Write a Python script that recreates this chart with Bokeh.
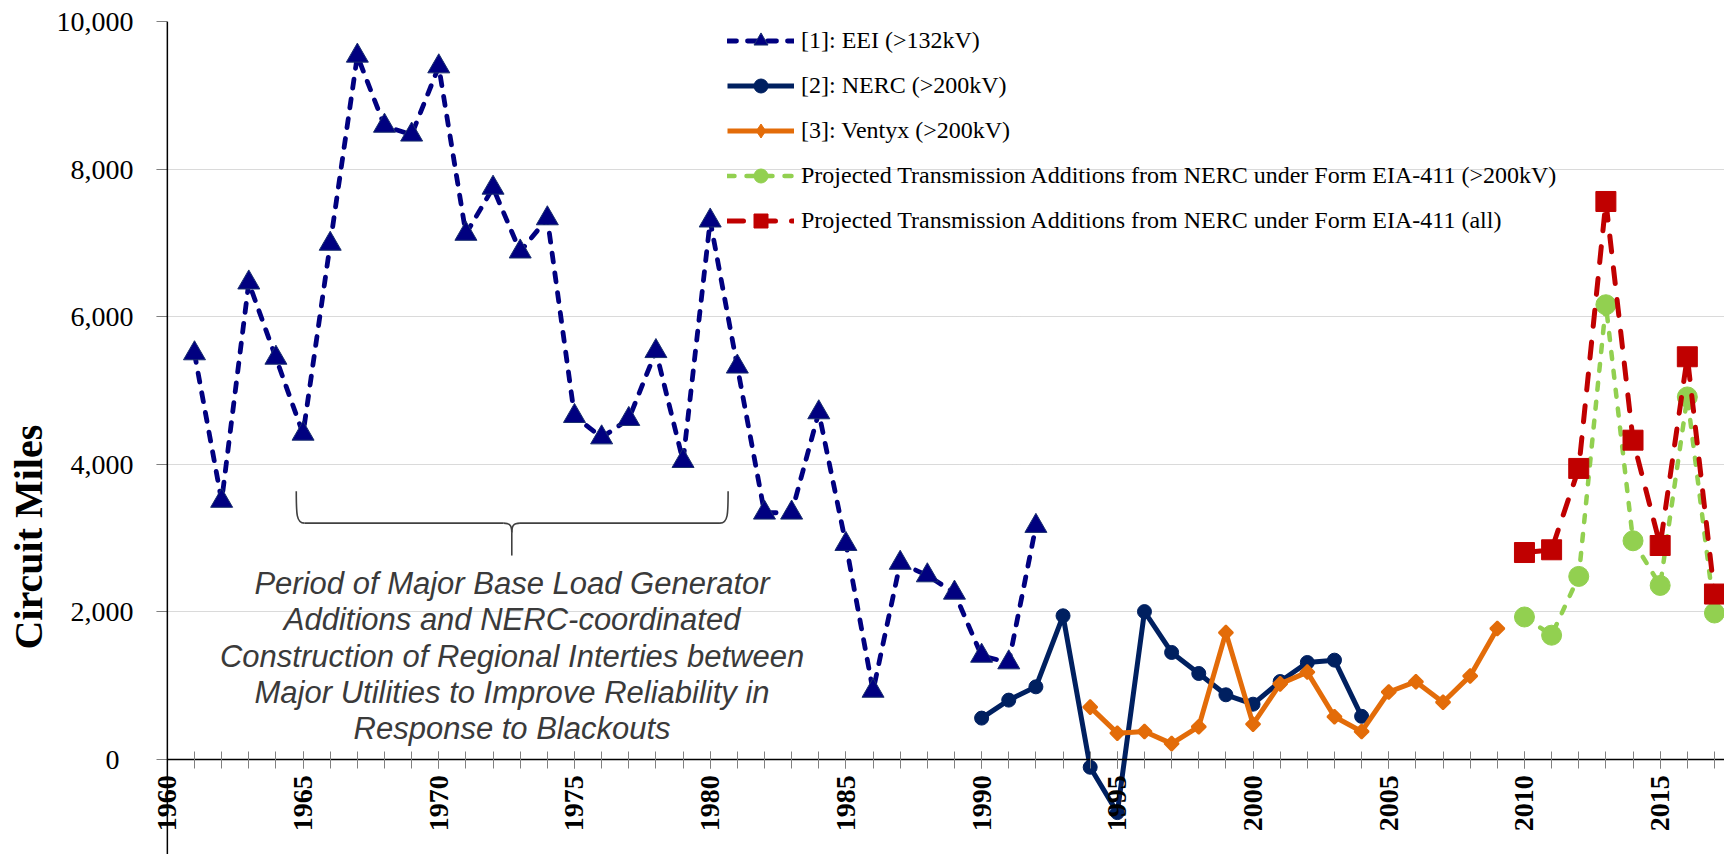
import math
from bokeh.plotting import figure
from bokeh.models import (FixedTicker, NumeralTickFormatter, Legend, LegendItem,
                          Title, ColumnDataSource, Range1d, Span)
from bokeh.embed import file_html
from bokeh.resources import INLINE
from bokeh.core.properties import value

# ---------------- data ----------------
eei_years = list(range(1961, 1993))
eei_miles = [5500, 3500, 6460, 5440, 4410, 6985, 9535, 8585, 8465, 9390,
             7120, 7745, 6880, 7330, 4650, 4360, 4610, 5530, 4040, 7300,
             5320, 3340, 3340, 4700, 2915, 925, 2660, 2490, 2255, 1400,
             1310, 3160]

nerc_years = list(range(1990, 2005))
nerc_miles = [556, 800, 980, 1943, -110, -725, 2000, 1446, 1161, 872,
              745, 1052, 1310, 1342, 580]

ventyx_years = list(range(1994, 2010))
ventyx_miles = [705, 352, 374, 210, 440, 1715, 474, 1020, 1180, 575,
                374, 910, 1050, 772, 1128, 1770]

proj_years = list(range(2010, 2018))
proj_200kv = [1927, 1680, 2477, 6160, 2960, 2355, 4910, 1981]
proj_all = [2801, 2838, 3941, 7560, 4324, 2896, 5455, 2238]

legend_labels = [
    "[1]: EEI (>132kV)",
    "[2]: NERC (>200kV)",
    "[3]: Ventyx (>200kV)",
    "Projected Transmission Additions from NERC under Form EIA-411 (>200kV)",
    "Projected Transmission Additions from NERC under Form EIA-411 (all)",
]

y_ticks = [0, 2000, 4000, 6000, 8000, 10000]
x_major_ticks = list(range(1960, 2016, 5))
x_minor_ticks = list(range(1960, 2018))
x_axis_start = 1960

annotation_lines = [
    "Period of Major Base Load Generator",
    "Additions and NERC-coordinated",
    "Construction of Regional Interties between",
    "Major Utilities to Improve Reliability in",
    "Response to Blackouts",
]
annotation_x = 1972.7
annotation_y_first = 2381
annotation_y_step = 492

# brace spanning the period
brace_left, brace_mid, brace_right = 1964.75, 1972.69, 1980.66
brace_top, brace_bar, brace_tip = 3630, 3200, 2760

# ---------------- figure ----------------
x_end = 2017.37
p = figure(width=1724, height=854, output_backend="svg", toolbar_location=None,
           x_range=Range1d(1959.6, x_end), y_range=Range1d(-1293, 10000),
           min_border_left=155, min_border_right=0, min_border_top=21,
           min_border_bottom=0)
p.outline_line_color = None
p.background_fill_color = "white"
p.border_fill_color = "white"

# grid
p.xgrid.grid_line_color = None
p.ygrid.ticker = FixedTicker(ticks=y_ticks[1:])
p.ygrid.grid_line_color = "#b4b4b4"
p.ygrid.grid_line_dash = "1 1"
p.ygrid.grid_line_width = 1

# y axis (ticks/labels in the side panel, axis line drawn at 1960)
p.yaxis.ticker = FixedTicker(ticks=y_ticks)
p.yaxis.formatter = NumeralTickFormatter(format="0,0")
p.yaxis.major_label_overrides = {0: "0\u00a0\u00a0"}
p.yaxis.major_label_text_font = "Liberation Serif"
p.yaxis.major_label_text_font_size = "28px"
p.yaxis.major_label_text_color = "black"
p.yaxis.major_tick_in = 11
p.yaxis.major_tick_out = 0
p.yaxis.major_tick_line_color = "#808080"
p.yaxis.minor_tick_line_color = None
p.yaxis.major_label_standoff = 23
p.yaxis.axis_line_color = None
p.add_layout(Span(location=x_axis_start, dimension="height",
                  line_color="black", line_width=1.5))

# x axis at y = 0
p.xaxis.fixed_location = 0
p.xaxis.bounds = (x_axis_start, x_end)
p.xaxis.ticker = FixedTicker(ticks=x_major_ticks, minor_ticks=x_minor_ticks)
p.xaxis.formatter = NumeralTickFormatter(format="0")
p.xaxis.major_label_orientation = math.pi / 2
p.xaxis.major_label_text_font = "Liberation Serif"
p.xaxis.major_label_text_font_style = "bold"
p.xaxis.major_label_text_font_size = "28px"
p.xaxis.major_label_text_color = "black"
p.xaxis.major_label_standoff = 7
p.xaxis.major_tick_in = 8
p.xaxis.major_tick_out = 9
p.xaxis.minor_tick_in = 8
p.xaxis.minor_tick_out = 9
p.xaxis.major_tick_line_color = "#808080"
p.xaxis.minor_tick_line_color = "#808080"
p.xaxis.axis_line_color = "black"
p.xaxis.axis_line_width = 1.5

# y axis title (placed lower than the frame centre, like the original)
p.add_layout(Title(text="Circuit Miles", align="left", offset=205, standoff=6,
                   text_font="Liberation Serif", text_font_style="bold",
                   text_font_size="40px", text_color="black"), "left")

# ---------------- brace annotation ----------------
dx = 0.3
h_mid = (brace_bar - brace_tip) * 0.3
brace_src = ColumnDataSource(dict(
    x0=[brace_left, brace_left + dx, brace_mid - dx, brace_right, brace_right - dx, brace_mid + dx],
    y0=[brace_top, brace_bar, brace_bar, brace_top, brace_bar, brace_bar],
    x1=[brace_left + dx, brace_mid - dx, brace_mid, brace_right - dx, brace_mid + dx, brace_mid],
    y1=[brace_bar, brace_bar, brace_bar - h_mid, brace_bar, brace_bar, brace_bar - h_mid],
    cx0=[brace_left, brace_left + dx, brace_mid - 0.05, brace_right, brace_right - dx, brace_mid + 0.05],
    cy0=[brace_bar + (brace_top - brace_bar) * 0.3, brace_bar, brace_bar,
         brace_bar + (brace_top - brace_bar) * 0.3, brace_bar, brace_bar],
    cx1=[brace_left, brace_mid - dx, brace_mid, brace_right, brace_mid + dx, brace_mid],
    cy1=[brace_bar, brace_bar, brace_bar - h_mid * 0.3, brace_bar, brace_bar, brace_bar - h_mid * 0.3],
))
p.bezier(x0="x0", y0="y0", x1="x1", y1="y1", cx0="cx0", cy0="cy0", cx1="cx1", cy1="cy1",
         source=brace_src, line_color="#404040", line_width=1.6)
p.segment(x0=[brace_mid], y0=[brace_bar - h_mid], x1=[brace_mid], y1=[brace_tip],
          line_color="#404040", line_width=1.6)

p.text(x=[annotation_x] * len(annotation_lines),
       y=[annotation_y_first - i * annotation_y_step for i in range(len(annotation_lines))],
       text=annotation_lines, text_font=value("Liberation Sans"),
       text_font_style="italic", text_font_size="31px", text_color="#3a3a3a",
       text_align="center", text_baseline="middle")

# ---------------- series ----------------
navy = "#000080"
dark_blue = "#002060"
orange = "#E36C09"
green = "#92D050"
red = "#C00000"

l1 = p.line(eei_years, eei_miles, line_color=navy, line_width=4.8,
            line_dash="9 11", line_cap="round")
m1 = p.scatter(eei_years, eei_miles, marker="triangle", size=22,
               fill_color=navy, line_color="#1a2f6e", line_width=1)

l2 = p.line(nerc_years, nerc_miles, line_color=dark_blue, line_width=5)
m2 = p.scatter(nerc_years, nerc_miles, marker="circle", size=14,
               fill_color=dark_blue, line_color=dark_blue)

l3 = p.line(ventyx_years, ventyx_miles, line_color=orange, line_width=5)
m3 = p.scatter(ventyx_years, ventyx_miles, marker="square", size=10, angle=math.pi / 4,
               fill_color=orange, line_color=orange, line_width=2)
# diamond used as the legend symbol (hidden under the first plotted marker)
m3_key = p.scatter(ventyx_years[:1], ventyx_miles[:1], marker="diamond", size=12,
                   fill_color=orange, line_color=orange, line_width=1)

l4 = p.line(proj_years, proj_200kv, line_color=green, line_width=4.5,
            line_dash="7 12", line_cap="round")
m4 = p.scatter(proj_years, proj_200kv, marker="circle", size=20,
               fill_color=green, line_color=green)

l5 = p.line(proj_years, proj_all, line_color=red, line_width=5,
            line_dash="16 16", line_cap="round")
m5 = p.scatter(proj_years, proj_all, marker="square", size=20,
               fill_color=red, line_color=red)

legend = Legend(items=[
    LegendItem(label=legend_labels[0], renderers=[l1, m1]),
    LegendItem(label=legend_labels[1], renderers=[l2, m2]),
    LegendItem(label=legend_labels[2], renderers=[l3, m3_key]),
    LegendItem(label=legend_labels[3], renderers=[l4, m4]),
    LegendItem(label=legend_labels[4], renderers=[l5, m5]),
], location=(571, 616))
legend.padding = 0
legend.margin = 0
legend.spacing = 10
legend.glyph_width = 67
legend.glyph_height = 35
legend.label_height = 35
legend.label_standoff = 7
legend.label_text_font = "Liberation Serif"
legend.label_text_font_size = "24px"
legend.label_text_color = "black"
legend.border_line_alpha = 0
legend.background_fill_alpha = 0
p.add_layout(legend, "center")

open("out.html", "w").write(file_html(p, INLINE))
